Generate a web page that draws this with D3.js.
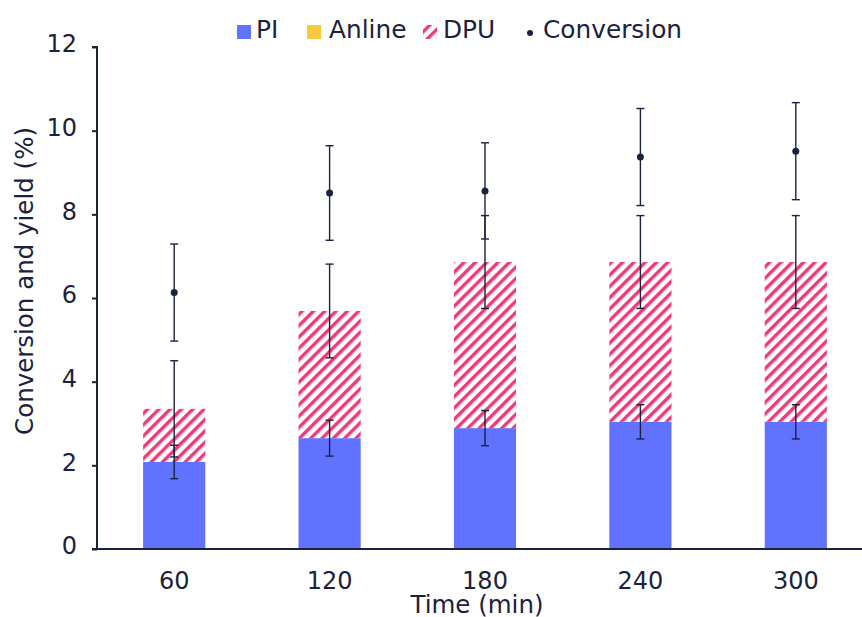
<!DOCTYPE html>
<html>
<head>
<meta charset="utf-8">
<script src="https://cdn.jsdelivr.net/npm/d3@7"></script>
<style>
  body { margin: 0; background: #fff; }
  svg { display: block; }
  svg text { font-family: "DejaVu Sans"; }
</style>
</head>
<body>
<svg id="chart" width="862" height="617"></svg>
<script>
const categories = ["60", "120", "180", "240", "300"];
const piValues = [2.08, 2.65, 2.89, 3.04, 3.04];
const piErr = [0.40, 0.43, 0.42, 0.41, 0.41];
const anlineValues = [0, 0, 0, 0, 0];
const dpuValues = [1.27, 3.04, 3.97, 3.82, 3.82];
const dpuErr = [1.15, 1.12, 1.11, 1.11, 1.11];
const conversion = [6.13, 8.51, 8.56, 9.37, 9.51];
const convErr = [1.16, 1.13, 1.15, 1.16, 1.16];
const yTicks = [0, 2, 4, 6, 8, 10, 12];

const textColor = "#1b2240";
const piColor = "#6072ff";
const anlineColor = "#f9c93f";
const dpuColor = "#f2387a";
const FONT = "DejaVu Sans";

const svg = d3.select("#chart");
const defs = svg.append("defs");
const pat = defs.append("pattern")
  .attr("id", "hatch").attr("patternUnits", "userSpaceOnUse")
  .attr("width", 8).attr("height", 8)
  .attr("patternTransform", "rotate(45)");
pat.append("rect").attr("width", 8).attr("height", 8).attr("fill", "#fff");
pat.append("rect").attr("x", 0).attr("width", 3.4).attr("height", 8).attr("fill", dpuColor);

const x = d3.scaleBand().domain(categories).range([96.5, 873.5])
  .paddingInner(0.6).paddingOuter(0.3);
const y = d3.scaleLinear().domain([0, 12]).range([549, 47]);

const rows = categories.map((c, i) => ({ cat: c, PI: piValues[i], Anline: anlineValues[i], DPU: dpuValues[i] }));
const stack = d3.stack().keys(["PI", "Anline", "DPU"])(rows);
const fills = { PI: piColor, Anline: anlineColor, DPU: "url(#hatch)" };

stack.forEach(layer => {
  svg.append("g").selectAll("rect").data(layer).join("rect")
    .attr("x", d => x(d.data.cat))
    .attr("width", x.bandwidth())
    .attr("y", d => y(d[1]))
    .attr("height", d => Math.max(0, y(d[0]) - y(d[1])))
    .attr("fill", fills[layer.key]);
});

function errBars(centers, errs) {
  const g = svg.append("g").attr("stroke", textColor).attr("stroke-width", 1.4);
  categories.forEach((c, i) => {
    const cx = x(c) + x.bandwidth() / 2;
    const lo = y(centers[i] - errs[i]), hi = y(centers[i] + errs[i]);
    g.append("line").attr("x1", cx).attr("x2", cx).attr("y1", lo).attr("y2", hi);
    g.append("line").attr("x1", cx - 4).attr("x2", cx + 4).attr("y1", lo).attr("y2", lo);
    g.append("line").attr("x1", cx - 4).attr("x2", cx + 4).attr("y1", hi).attr("y2", hi);
  });
}
errBars(piValues, piErr);
errBars(piValues.map((v, i) => v + anlineValues[i] + dpuValues[i]), dpuErr);
errBars(conversion, convErr);

svg.append("g").selectAll("circle").data(conversion).join("circle")
  .attr("cx", (d, i) => x(categories[i]) + x.bandwidth() / 2)
  .attr("cy", d => y(d)).attr("r", 3.5).attr("fill", textColor);

const yAxis = svg.append("g").attr("transform", "translate(97,0)")
  .call(d3.axisLeft(y).tickValues(yTicks).tickSize(5).tickPadding(15).tickFormat(d3.format("d")));
yAxis.attr("font-family", FONT).attr("font-size", 24);
yAxis.select(".domain").attr("d", "M-5,47H0V549H-5").attr("stroke", textColor).attr("stroke-width", 2);
yAxis.selectAll(".tick line").attr("stroke", textColor).attr("stroke-width", 2);
yAxis.selectAll(".tick text").attr("fill", textColor).attr("dy", "0.2em");

const xAxis = svg.append("g").attr("transform", "translate(0,549)")
  .call(d3.axisBottom(x).tickSize(0).tickPadding(23));
xAxis.attr("font-family", FONT).attr("font-size", 24);
xAxis.select(".domain").attr("d", "M96,0H862").attr("stroke", textColor).attr("stroke-width", 2);
xAxis.selectAll(".tick text").attr("fill", textColor);

svg.append("text").attr("x", 477).attr("y", 612.5).attr("text-anchor", "middle")
  .attr("font-family", FONT).attr("fill", textColor).attr("font-size", 24.5).text("Time (min)");
svg.append("text").attr("transform", "translate(33,281) rotate(-90)")
  .attr("text-anchor", "middle").attr("font-family", FONT).attr("fill", textColor).attr("font-size", 24.5)
  .text("Conversion and yield (%)");

const legendItems = [
  { label: "PI", type: "rect", fill: piColor, x: 237, tx: 256 },
  { label: "Anline", type: "rect", fill: anlineColor, x: 307, tx: 329 },
  { label: "DPU", type: "rect", fill: "url(#hatch)", x: 423, tx: 443 },
  { label: "Conversion", type: "dot", fill: textColor, x: 523, tx: 543 }
];
const lg = svg.append("g");
legendItems.forEach(it => {
  if (it.type === "rect") {
    lg.append("rect").attr("x", it.x).attr("y", 25).attr("width", 14).attr("height", 14).attr("fill", it.fill);
  } else {
    lg.append("circle").attr("cx", it.x + 7).attr("cy", 33).attr("r", 3).attr("fill", it.fill);
  }
  lg.append("text").attr("x", it.tx).attr("y", 37.5).attr("fill", textColor)
    .attr("font-family", FONT).attr("font-size", 24.8).text(it.label);
});
</script>
</body>
</html>
